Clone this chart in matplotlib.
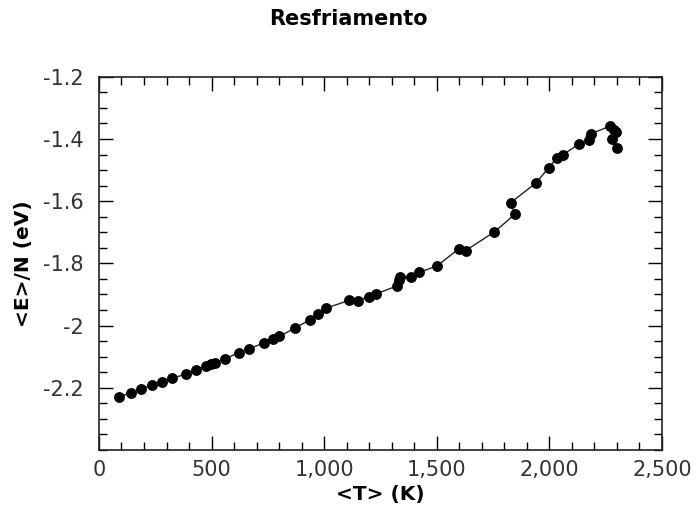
import numpy as np
import matplotlib.pyplot as plt
from matplotlib.ticker import MultipleLocator, FuncFormatter

# temperature (K) and energy per atom (eV)
temp = [90, 141, 185, 234, 278, 323, 385, 429, 475, 496, 515, 559, 622, 666,
        731, 774, 801, 870, 936, 971, 1008, 1111, 1151, 1199, 1231, 1322,
        1332, 1336, 1385, 1422, 1502, 1598, 1628, 1754, 1848, 1828, 1940,
        1997, 2035, 2060, 2134, 2177, 2183, 2269, 2287, 2296, 2279, 2302]
energy = [-2.229, -2.216, -2.204, -2.192, -2.182, -2.169, -2.157, -2.143,
          -2.131, -2.125, -2.120, -2.107, -2.087, -2.075, -2.056, -2.043,
          -2.035, -2.008, -1.982, -1.963, -1.944, -1.919, -1.920, -1.907,
          -1.898, -1.873, -1.854, -1.845, -1.845, -1.829, -1.808, -1.753,
          -1.759, -1.700, -1.642, -1.605, -1.542, -1.493, -1.460, -1.451,
          -1.415, -1.404, -1.384, -1.359, -1.372, -1.379, -1.399, -1.429]

y_major = [-2.2, -2.0, -1.8, -1.6, -1.4, -1.2]

fig = plt.figure(figsize=(6.96, 5.15), dpi=100)
ax = fig.add_axes([0.1422, 0.1262, 0.8088, 0.7248])

ax.plot(temp, energy, color='#222222', linewidth=1.0, marker='o',
        markersize=6.8, markerfacecolor='black', markeredgecolor='black')

ax.set_xlim(0, 2500)
ax.set_ylim(-2.4, -1.2)
ax.xaxis.set_major_locator(MultipleLocator(500))
ax.xaxis.set_minor_locator(MultipleLocator(100))
ax.set_yticks(y_major)
ax.yaxis.set_minor_locator(MultipleLocator(0.05))
ax.xaxis.set_major_formatter(FuncFormatter(lambda v, p: '{:,.0f}'.format(v)))
ax.yaxis.set_major_formatter(FuncFormatter(lambda v, p: '{:g}'.format(round(v, 2))))

ax.tick_params(which='both', direction='in', top=True, right=True,
               labelsize=15, labelcolor='#333333', width=1.0)
ax.tick_params(which='major', length=10)
ax.tick_params(which='minor', length=6)
ax.tick_params(axis='x', which='major', pad=7)
ax.tick_params(axis='y', which='major', pad=11)
for s in ax.spines.values():
    s.set_linewidth(1.2)
    s.set_color('#222222')

ax.set_xlabel('<T> (K)', fontsize=14.5, fontweight='bold', labelpad=4)
ax.set_ylabel('<E>/N (eV)', fontsize=14.5, fontweight='bold', labelpad=7)
fig.suptitle('Resfriamento', fontsize=15, fontweight='bold', y=0.982)

fig.savefig('out.png', dpi=100)
